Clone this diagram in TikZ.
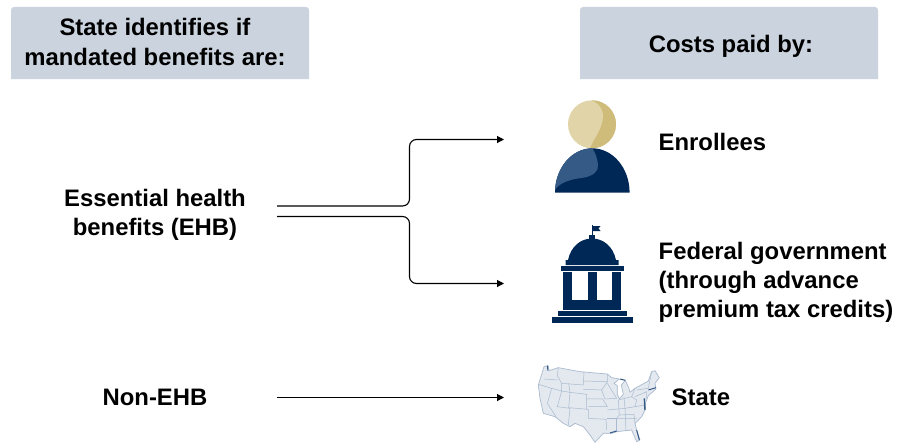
\documentclass[tikz,border=0pt]{standalone}
\usepackage{fontspec}
\setmainfont{Liberation Sans}
\usetikzlibrary{arrows.meta}
\definecolor{hdr}{HTML}{CBD3DE}
\definecolor{navy}{HTML}{002857}
\definecolor{navyl}{HTML}{355A85}
\definecolor{tan}{HTML}{CFBC7A}
\definecolor{tanl}{HTML}{E0D4A8}
\definecolor{mapf}{HTML}{E4E8EF}
\definecolor{mapl}{HTML}{A9BACF}
\tikzset{
 hdrbox/.style={fill=hdr,draw=none},
 lab/.style={align=center,inner sep=0pt,text=black,font=\fontsize{23.85}{29.3}\selectfont\bfseries},
 labl/.style={lab,align=left,anchor=west},
 conn/.style={draw=black,line width=1.1pt,rounded corners=7pt,-{Triangle[length=7pt,width=7pt]}},
 nav/.style={fill=navy,draw=none},
 ml/.style={draw=mapl,line width=0.5pt,line join=round},
}
\begin{document}
\begin{tikzpicture}[x=1pt,y=-1pt]
\useasboundingbox (0,0) rectangle (902,444);
\fill[white] (0,0) rectangle (902,444);
\fill[hdrbox] (11,79) -- (11,10) arc[start angle=180,end angle=270,radius=3] -- (306,7) arc[start angle=270,end angle=360,radius=3] -- (309,79) -- cycle;
\fill[hdrbox] (580,79) -- (580,10) arc[start angle=180,end angle=270,radius=3] -- (875,7) arc[start angle=270,end angle=360,radius=3] -- (878,79) -- cycle;
\node[lab] (h1t) at (155,42) {State identifies if\\mandated benefits are:};
\node[lab] (h2t) at (731,46) {Costs paid by:};
\node[lab] (ehb) at (155,214.5) {Essential health\\benefits (EHB)};
\node[lab] (non) at (155,397) {Non-EHB};
\node[labl] (enr) at (658.5,142) {Enrollees};
\node[labl] (fed) at (658.5,282.5) {Federal government\\(through advance\\premium tax credits)};
\node[labl] (st) at (671.5,397) {State};
\coordinate (a1) at (277,206);
\coordinate (a2) at (277,216.5);
\coordinate (a3) at (277,397.5);
\coordinate (b1) at (504,139.5);
\coordinate (b2) at (504,283.5);
\coordinate (b3) at (504,397.5);
\draw[conn] (a1) -- (409.5,206) -- (409.5,139.5) -- (b1);
\draw[conn] (a2) -- (409.5,216.5) -- (409.5,283.5) -- (b2);
\draw[conn] (a3) -- (b3);
% person
\fill[tanl] (592,124.3) circle (24);
\begin{scope}
\clip (592,124.3) circle (24);
\fill[tan] (592,100.5) .. controls (600,103) and (604,112) .. (603,118) .. controls (602,130) and (594,138) .. (590,148.5) -- (620,152) -- (620,98) -- cycle;
\end{scope}
\fill[navy] (555,192.7) arc[start angle=180,end angle=360,x radius=37.3,y radius=44.4] -- cycle;
\begin{scope}
\clip (555,192.7) arc[start angle=180,end angle=360,x radius=37.3,y radius=44.4] -- cycle;
\fill[navyl] (550,192.7) -- (555,190) .. controls (560,182) and (572,179) .. (582,178) .. controls (594,176) and (599,171) .. (598,164) .. controls (597,157) and (595,152) .. (592,148) -- (550,148) -- cycle;
\end{scope}
% capitol
\fill[nav] (592,225) rectangle (593.4,236);
\fill[nav] (593,226) -- (600.5,226) -- (598.5,228.5) -- (600.5,231) -- (593,231) -- cycle;
\fill[nav] (589,235) rectangle (595,240);
\fill[nav] (565.7,265) -- (565.7,260) -- (568,260) .. controls (571,246) and (581,238.5) .. (592,238.5) .. controls (603,238.5) and (613,246) .. (616,260) -- (618.7,260) -- (618.7,265) -- cycle;
\fill[nav] (560.7,266.3) rectangle (624,271);
\fill[nav] (563,272.3) rectangle (621,310);
\fill[white] (572,272.3) rectangle (587.5,300);
\fill[white] (596.7,272.3) rectangle (612,300);
\fill[nav] (557.7,311.3) rectangle (626.7,316);
\fill[nav] (551.7,317.3) rectangle (632.7,323.3);
% map
\begin{scope}[shift={(520,355)},x=0.3333pt,y=-0.3333pt]
\filldraw[fill=mapf,ml,line width=0.7pt] (72,35) -- (85,32) -- (87,47) -- (115,38) -- (180,50) -- (262,57) -- (275,68) -- (298,72) -- (282,85) -- (292,92) -- (292,118) -- (298,132) -- (310,118) -- (304,90) -- (316,76) -- (326,98) -- (330,112) -- (345,100) -- (385,78) -- (395,50) -- (405,47) -- (418,68) -- (405,85) -- (408,102) -- (385,122) -- (378,140) -- (375,165) -- (365,185) -- (345,205) -- (350,225) -- (360,255) -- (350,260) -- (335,225) -- (290,230) -- (275,235) -- (250,235) -- (225,262) -- (210,240) -- (190,215) -- (165,205) -- (150,215) -- (130,205) -- (105,185) -- (70,175) -- (60,130) -- (55,90) -- cycle;
\draw[ml] (55,88) -- (95,100) -- (82,145) -- (108,185);
\draw[ml] (95,100) -- (125,108) -- (112,155) -- (150,160) -- (145,210);
\draw[ml] (115,38) -- (112,62) -- (125,85) -- (125,108);
\draw[ml] (72,72) -- (112,75);
\draw[ml] (125,85) -- (190,90) -- (192,50);
\draw[ml] (150,112) -- (125,108);
\draw[ml] (150,112) -- (146,158) -- (205,163) -- (205,190) -- (258,193) -- (260,225);
\draw[ml] (146,85) -- (150,112) -- (200,118) -- (200,163);
\draw[ml] (190,78) -- (262,80) -- (262,57);
\draw[ml] (190,103) -- (245,105) -- (262,80);
\draw[ml] (200,132) -- (248,132) -- (262,155) -- (205,155);
\draw[ml] (245,105) -- (255,132) -- (290,130) -- (262,85);
\draw[ml] (262,165) -- (315,160) -- (345,155) -- (375,150);
\draw[ml] (262,190) -- (290,190) -- (290,230);
\draw[ml] (295,135) -- (298,180) -- (290,190) -- (350,190);
\draw[ml] (315,160) -- (318,228);
\draw[ml] (298,180) -- (342,178) -- (345,205);
\draw[ml] (295,135) -- (335,125) -- (345,100);
\draw[ml] (312,127) -- (315,160);
\draw[ml] (335,125) -- (350,135) -- (345,155);
\draw[ml] (345,125) -- (380,110) -- (380,130);
\draw[ml] (350,105) -- (385,100);
\draw[ml] (395,50) -- (385,100);
\draw[line width=1pt,navyl] (82,32) -- (84,47);
\draw[line width=1.4pt,navyl] (373,130) -- (375,165);
\draw[line width=1pt,navyl] (385,105) -- (408,98);
\draw[line width=1pt,navyl] (270,234) -- (290,228);
\draw[line width=1pt,navyl] (300,72) -- (316,76);
\draw[line width=1pt,navyl] (350,225) -- (358,255);
\end{scope}
\end{tikzpicture}
\end{document}
